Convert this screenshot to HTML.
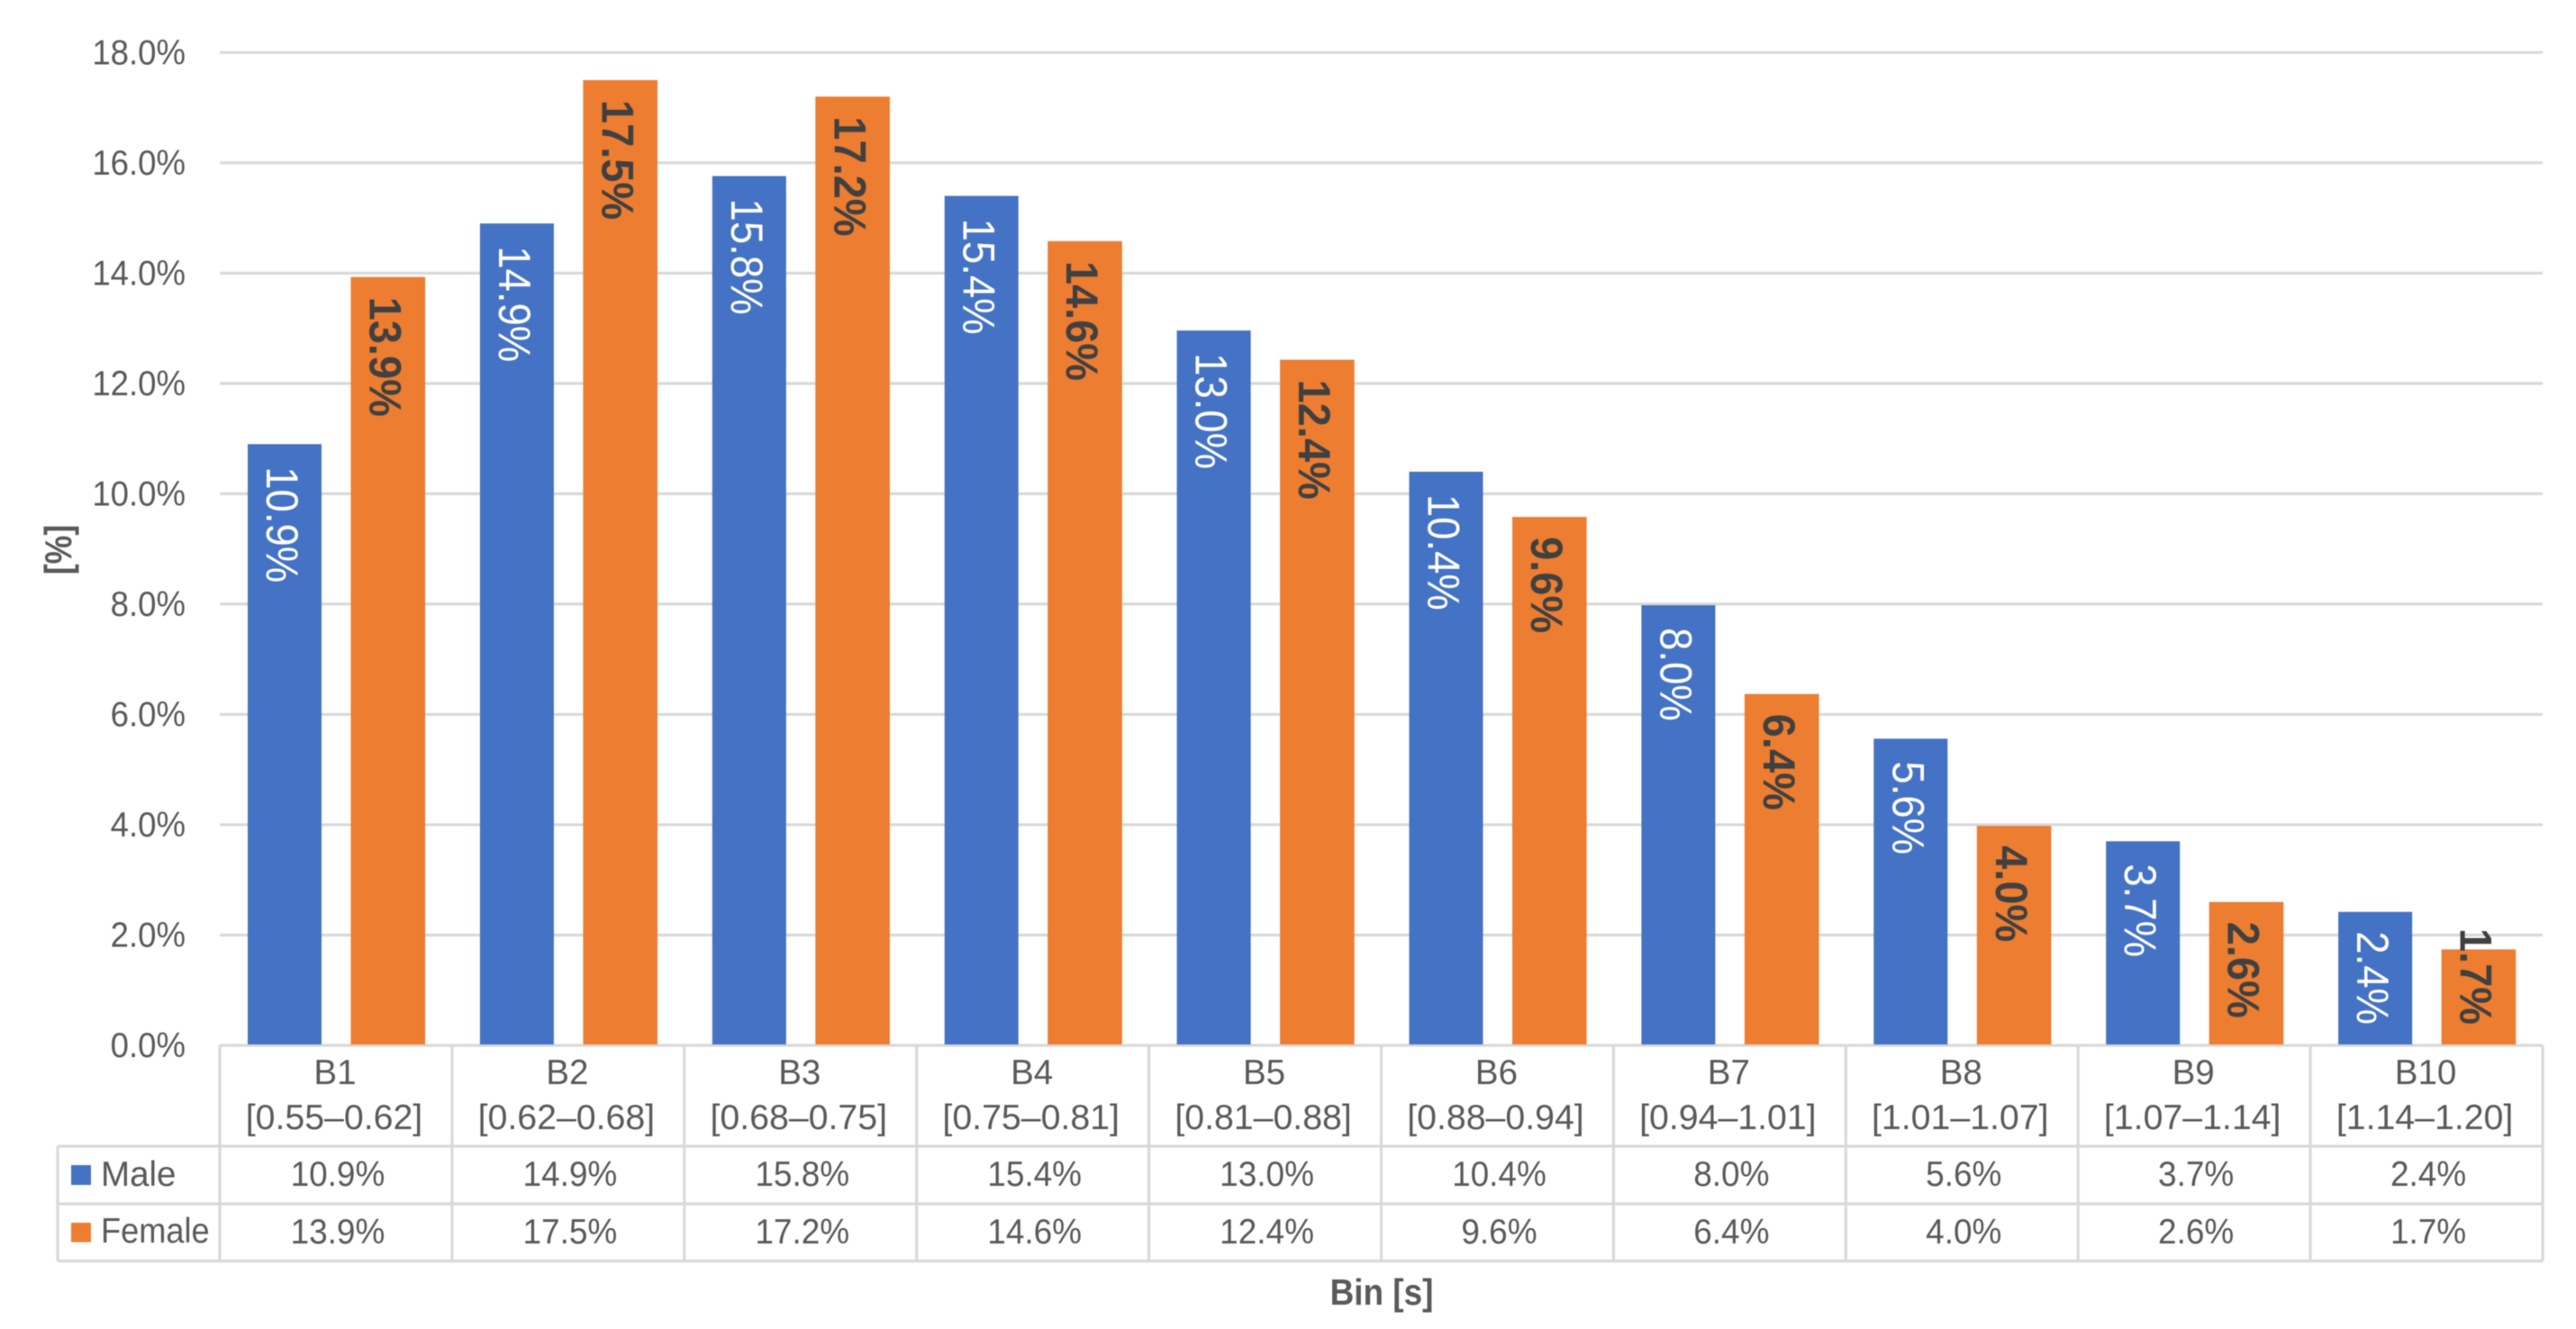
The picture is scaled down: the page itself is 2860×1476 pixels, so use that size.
<!DOCTYPE html>
<html lang="en">
<head>
<meta charset="utf-8">
<title>Bin distribution by sex</title>
<style>
  html, body { margin: 0; padding: 0; background: #ffffff; }
  body { width: 2860px; height: 1476px; overflow: hidden; }
  svg { display: block; filter: blur(0.6px); }
  text { font-family: "Liberation Sans", sans-serif; }
</style>
</head>
<body>
<svg id="chart" xmlns="http://www.w3.org/2000/svg" width="2860" height="1476" viewBox="0 0 2860 1476">
  <rect x="0" y="0" width="2860" height="1476" fill="#ffffff"/>
</svg>
<script>
const categories = ['B1', 'B2', 'B3', 'B4', 'B5', 'B6', 'B7', 'B8', 'B9', 'B10'];
const binRanges = ['[0.55–0.62]', '[0.62–0.68]', '[0.68–0.75]', '[0.75–0.81]', '[0.81–0.88]', '[0.88–0.94]', '[0.94–1.01]', '[1.01–1.07]', '[1.07–1.14]', '[1.14–1.20]'];
const maleValues = [10.9, 14.9, 15.76, 15.4, 12.96, 10.4, 7.98, 5.56, 3.7, 2.42];
const femaleValues = [13.93, 17.5, 17.2, 14.58, 12.43, 9.58, 6.37, 3.98, 2.6, 1.74];
const yTicks = [0, 2, 4, 6, 8, 10, 12, 14, 16, 18];

const svg = document.getElementById('chart');
const NS = 'http://www.w3.org/2000/svg';
const GRID = '#d9d9d9';
const TXT = '#595959';
const plotLeft = 244, plotRight = 2823, baseY = 1161, topY = 58.3, maxTick = 18;
const tableLeft = 64, headerBottom = 1273, maleBottom = 1337, femaleBottom = 1400.5;
const catW = (plotRight - plotLeft) / categories.length;

function yScale(v) { return baseY - (v / maxTick) * (baseY - topY); }
function xBand(i) { return plotLeft + i * catW; }
function pct(v) { return v.toFixed(1) + '%'; }

function line(x1, y1, x2, y2) {
  const l = document.createElementNS(NS, 'line');
  l.setAttribute('x1', x1);
  l.setAttribute('y1', y1);
  l.setAttribute('x2', x2);
  l.setAttribute('y2', y2);
  l.setAttribute('stroke', GRID);
  l.setAttribute('stroke-width', 3.2);
  svg.appendChild(l);
  return l;
}
function rect(x, y, w, h, fill) {
  const r = document.createElementNS(NS, 'rect');
  r.setAttribute('x', x);
  r.setAttribute('y', y);
  r.setAttribute('width', w);
  r.setAttribute('height', h);
  r.setAttribute('fill', fill);
  svg.appendChild(r);
  return r;
}
function label(str, x, y, size, anchor, fill, weight, sx, rot) {
  const t = document.createElementNS(NS, 'text');
  t.textContent = str;
  t.setAttribute('font-size', size);
  t.setAttribute('text-anchor', anchor);
  t.setAttribute('fill', fill);
  t.setAttribute('font-weight', weight);
  t.setAttribute('transform', 'translate(' + x + ',' + y + ') rotate(' + rot + ') scale(' + sx + ',1)');
  svg.appendChild(t);
  return t;
}

// gridlines and y tick labels
yTicks.forEach(function (tick) {
  const g = line(plotLeft, yScale(tick), plotRight, yScale(tick));
  
  
  const t = label(pct(tick), 206, yScale(tick) + 13, 38.5, 'end', TXT, 'normal', 0.95, 0);
  
  
});

// data table lines
[headerBottom, maleBottom, femaleBottom].forEach(function (yy, i) {
  const h = line(tableLeft, yy, plotRight, yy);
  
  
});
const leftEdge = line(tableLeft, headerBottom, tableLeft, femaleBottom);


for (let i = 0; i <= categories.length; i++) {
  const v = line(xBand(i), baseY, xBand(i), femaleBottom);
  
  
}

// bars
const barW = 82, maleOff = 31, femaleOff = 145.5;
function barLabel(v, barX, fill, weight, startOffset, sx, name) {
  const top = yScale(v);
  const t = label(pct(v), barX + 21, top + startOffset, 50, 'start', fill, weight, sx, 90);
  
  
  const len = t.getComputedTextLength() * sx;
  const limit = baseY - 23 - len;
  if (top + startOffset > limit) {
    t.setAttribute('transform', 'translate(' + (barX + 21) + ',' + limit + ') rotate(90) scale(' + sx + ',1)');
  }
}
categories.forEach(function (c, i) {
  const mx = xBand(i) + maleOff;
  const mr = rect(mx, yScale(maleValues[i]), barW, baseY - yScale(maleValues[i]) - 1, '#4472c4');
  
  
  const fx = xBand(i) + femaleOff;
  const fr = rect(fx, yScale(femaleValues[i]), barW + 0.6, baseY - yScale(femaleValues[i]) - 1, '#ed7d31');
  
  
});
categories.forEach(function (c, i) {
  barLabel(maleValues[i], xBand(i) + maleOff, '#ffffff', 'normal', 25, 0.91, 'data-label-male-' + c);
  barLabel(femaleValues[i], xBand(i) + femaleOff, '#404040', 'bold', 22, 0.94, 'data-label-female-' + c);
});

// table text
categories.forEach(function (c, i) {
  const cx = xBand(i) + catW / 2;
  const a = label(c, cx - 1, 1204, 38.5, 'middle', TXT, 'normal', 1, 0);
  
  
  const b = label(binRanges[i], cx - 2, 1254, 38.5, 'middle', TXT, 'normal', 1.02, 0);
  
  
  const m = label(pct(maleValues[i]), cx + 2, 1317, 38.5, 'middle', TXT, 'normal', 0.96, 0);
  
  
  const f = label(pct(femaleValues[i]), cx + 2, 1381, 38.5, 'middle', TXT, 'normal', 0.96, 0);
  
  
});

// legend keys in table
const swM = rect(79, 1294, 22, 22, '#4472c4');


const swF = rect(79, 1358, 22, 21.5, '#ed7d31');


const lgM = label('Male', 112, 1317, 38.5, 'start', TXT, 'normal', 1, 0);


const lgF = label('Female', 112, 1380, 38.5, 'start', TXT, 'normal', 0.94, 0);



// axis titles
const xTitle = label('Bin [s]', 1534, 1449, 41, 'middle', TXT, 'bold', 0.9, 0);


const yTitle = label('[%]', 79, 610.5, 42, 'middle', TXT, 'bold', 0.85, -90);


</script>
</body>
</html>
